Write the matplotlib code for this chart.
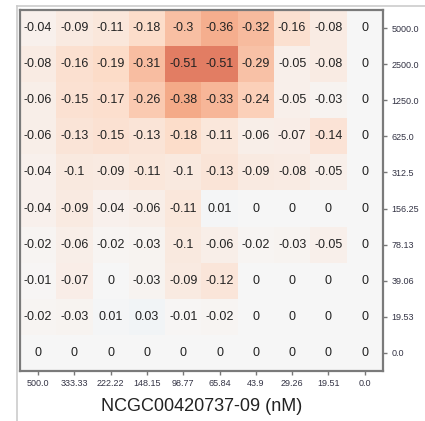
import numpy as np
import matplotlib
matplotlib.use('Agg')
import matplotlib.pyplot as plt
from matplotlib.lines import Line2D

plt.rcParams['font.family'] = ['Liberation Sans', 'DejaVu Sans']

x_labels = ['500.0', '333.33', '222.22', '148.15', '98.77', '65.84', '43.9', '29.26', '19.51', '0.0']
y_labels = ['5000.0', '2500.0', '1250.0', '625.0', '312.5', '156.25', '78.13', '39.06', '19.53', '0.0']

row_5000 = [-0.04, -0.09, -0.11, -0.18, -0.3, -0.36, -0.32, -0.16, -0.08, 0]
row_2500 = [-0.08, -0.16, -0.19, -0.31, -0.51, -0.51, -0.29, -0.05, -0.08, 0]
row_1250 = [-0.06, -0.15, -0.17, -0.26, -0.38, -0.33, -0.24, -0.05, -0.03, 0]
row_625 = [-0.06, -0.13, -0.15, -0.13, -0.18, -0.11, -0.06, -0.07, -0.14, 0]
row_312 = [-0.04, -0.1, -0.09, -0.11, -0.1, -0.13, -0.09, -0.08, -0.05, 0]
row_156 = [-0.04, -0.09, -0.04, -0.06, -0.11, 0.01, 0, 0, 0, 0]
row_78 = [-0.02, -0.06, -0.02, -0.03, -0.1, -0.06, -0.02, -0.03, -0.05, 0]
row_39 = [-0.01, -0.07, 0, -0.03, -0.09, -0.12, 0, 0, 0, 0]
row_19 = [-0.02, -0.03, 0.01, 0.03, -0.01, -0.02, 0, 0, 0, 0]
row_0 = [0, 0, 0, 0, 0, 0, 0, 0, 0, 0]

x_title = 'NCGC00420737-09 (nM)'
y_title = 'NCGC00346549-09 (nM)'


def main():
    data = np.array([row_5000, row_2500, row_1250, row_625, row_312,
                     row_156, row_78, row_39, row_19, row_0])

    fig = plt.figure(figsize=(4.25, 4.21), dpi=100)
    ax = fig.add_axes([0.047, 0.119, 0.854, 0.857])

    ax.imshow(data, cmap='RdBu', vmin=-1, vmax=1, aspect='auto',
              interpolation='nearest')

    for i in range(data.shape[0]):
        for j in range(data.shape[1]):
            v = data[i, j]
            txt = '0' if v == 0 else '{:g}'.format(v)
            ax.text(j, i, txt, ha='center', va='center', fontsize=9,
                    color='#222222')

    ax.set_xticks(range(len(x_labels)))
    ax.set_xticklabels(x_labels, fontsize=6.5, color='#333344')
    ax.set_yticks(range(len(y_labels)))
    ax.set_yticklabels(y_labels, fontsize=6.5, color='#333344')
    ax.yaxis.tick_right()
    ax.yaxis.set_label_position('right')
    ax.tick_params(length=3, width=1, color='#777777', pad=3)

    ax.set_xlabel(x_title, fontsize=13, color='#222222', labelpad=7)
    ax.set_ylabel(y_title, fontsize=13, color='#222222', labelpad=7,
                  rotation=90)

    for s in ax.spines.values():
        s.set_color('#7a7a7a')
        s.set_linewidth(1.6)

    # outer panel border
    fig.add_artist(Line2D([17 / 425, 17 / 425], [0, 1 - 6 / 421],
                          transform=fig.transFigure, color='#cccccc', lw=1.2))
    fig.add_artist(Line2D([17 / 425, 1], [1 - 6 / 421, 1 - 6 / 421],
                          transform=fig.transFigure, color='#cccccc', lw=1.2))

    plt.savefig('out.png', dpi=100)
    plt.close()


if __name__ == "__main__":
    main()
